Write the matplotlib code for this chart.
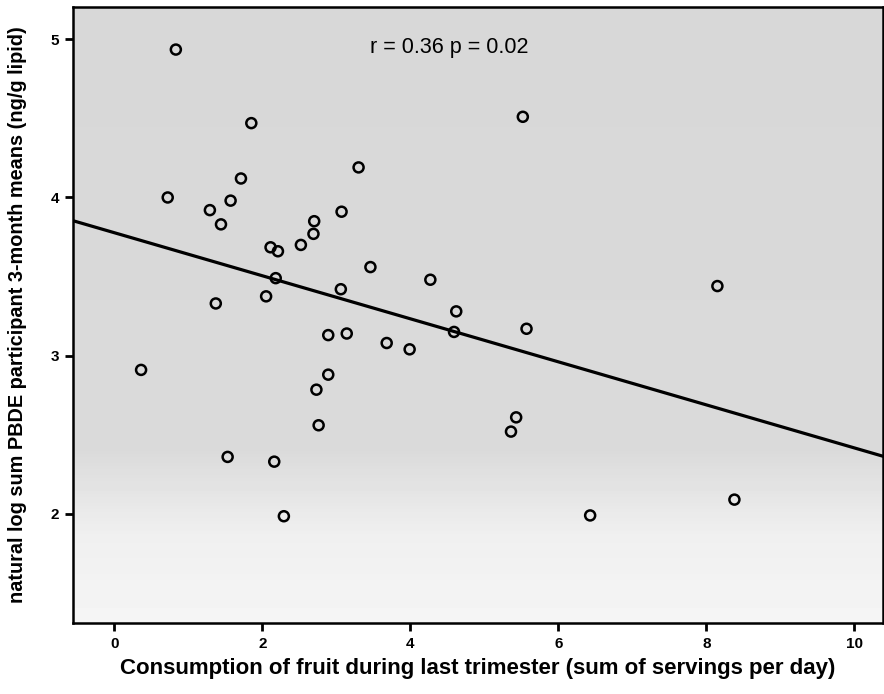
import numpy as np
import matplotlib
matplotlib.use("Agg")
import matplotlib.pyplot as plt

# fruit servings per day (x) vs ln sum PBDE (y)
fruit = [0.83, 1.85, 3.30, 1.71, 0.72, 1.57, 1.29, 1.44, 3.07, 2.70,
         2.69, 2.52, 2.11, 2.21, 3.46, 2.18, 3.06, 2.05, 1.37, 5.52,
         4.27, 4.62, 4.59, 5.57, 3.68, 3.99, 2.89, 3.14, 2.89, 2.73,
         2.76, 1.53, 2.16, 2.29, 0.36, 5.43, 5.36, 6.43, 8.15, 8.38]
pbde = [4.935, 4.47, 4.19, 4.12, 4.00, 3.98, 3.92, 3.83, 3.91, 3.85,
        3.77, 3.70, 3.685, 3.66, 3.56, 3.49, 3.42, 3.375, 3.33, 4.51,
        3.48, 3.28, 3.15, 3.17, 3.08, 3.04, 3.13, 3.14, 2.88, 2.785,
        2.56, 2.36, 2.33, 1.985, 2.91, 2.61, 2.52, 1.99, 3.44, 2.09]

# fitted line as drawn in the figure
fit_intercept = 3.777
fit_slope = -0.136

x_ticks = [0, 2, 4, 6, 8, 10]
y_ticks = [2, 3, 4, 5]
annotation = "r = 0.36 p = 0.02"

plt.rcParams['font.family'] = ['Liberation Sans', 'DejaVu Sans']

fig = plt.figure(figsize=(8.84, 6.94), dpi=100)
ax = fig.add_axes([0.0826, 0.1023, 0.9164, 0.8876])

xlim = (-0.56, 10.39)
ylim = (1.31, 5.204)

# scanned gray background, lighter near the bottom
stops_pos = [0.0, 0.14, 0.28, 1.0]
stops_val = [0.96, 0.94, 0.855, 0.845]
grad = np.interp(np.linspace(0, 1, 200), stops_pos, stops_val)[::-1].reshape(-1, 1)
ax.imshow(grad, cmap='gray', vmin=0, vmax=1, aspect='auto',
          extent=(0, 1, 0, 1), transform=ax.transAxes, zorder=0)

xs = np.array(xlim)
ax.plot(xs, fit_intercept + fit_slope * xs, color='black', lw=2.3, zorder=2)

ax.scatter(fruit, pbde, s=52, facecolors='none', edgecolors='black',
           linewidths=1.8, zorder=3)

ax.text(4.53, 4.95, annotation, ha='center', va='center', fontsize=15.5)

ax.set_xlim(*xlim)
ax.set_ylim(*ylim)
ax.set_xticks(x_ticks)
ax.set_yticks(y_ticks)
ax.tick_params(direction='out', length=6, width=2, labelsize=11, pad=4)
for lbl in ax.get_xticklabels() + ax.get_yticklabels():
    lbl.set_fontweight('bold')
for sp in ax.spines.values():
    sp.set_linewidth(1.8)

ax.set_xlabel("Consumption of fruit during last trimester (sum of servings per day)",
              fontsize=16, fontweight='bold', labelpad=5)
ax.set_ylabel("natural log sum PBDE participant 3-month means (ng/g lipid)",
              fontsize=14.3, fontweight='bold', labelpad=17)

fig.savefig("out.png", dpi=100)
